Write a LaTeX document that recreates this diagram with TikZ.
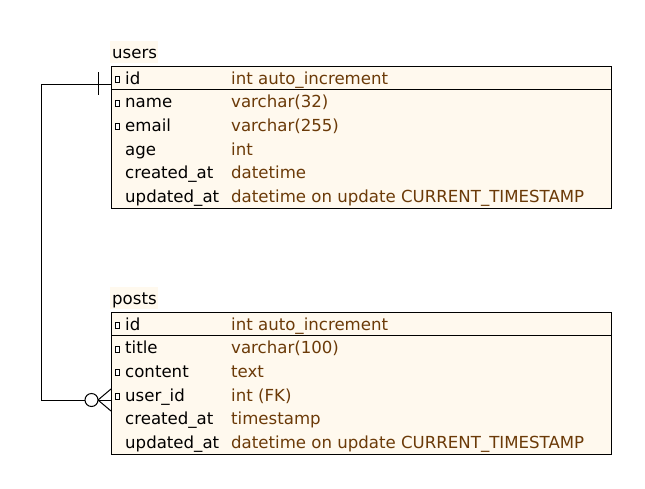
\documentclass[tikz,border=0pt]{standalone}
\usepackage{fontspec}
\setmainfont{DejaVu Sans}
\definecolor{tablefill}{HTML}{FFF9EE}
\definecolor{typebrown}{HTML}{6B3A08}
\tikzset{
  tablebox/.style={draw=black, line width=1pt, fill=tablefill, inner sep=0pt, anchor=north west},
  titlebox/.style={fill=tablefill, inner sep=0pt, anchor=north west},
  txt/.style={font=\fontsize{16.6}{18}\selectfont, inner sep=0pt, anchor=base west},
  colname/.style={txt, text=black},
  coltype/.style={txt, text=typebrown},
  keyicon/.style={draw=black, line width=0.7pt, fill=white, inner sep=0pt, minimum width=4pt, minimum height=6pt, anchor=south west},
  link/.style={draw=black, line width=1pt},
}
\begin{document}
\begin{tikzpicture}[x=1pt, y=-1pt]
\useasboundingbox (0,0) rectangle (645,488);

% ---- users table ----
\node[titlebox, minimum width=48pt, minimum height=22pt] (usersTitleBg) at (110,41) {};
\node[colname] (usersTitle) at (112,58) {users};
\node[tablebox, minimum width=500pt, minimum height=142pt] (users) at (111,66) {};
\draw[line width=1pt] (111,89.3) -- (611,89.3);
\foreach \n/\name/\type/\key [count=\i from 0] in {
  id/id/int auto\_increment/1,
  name/name/varchar(32)/1,
  email/email/varchar(255)/1,
  age/age/int/0,
  created/created\_at/datetime/0,
  updated/updated\_at/datetime on update CURRENT\_TIMESTAMP/0}{
  \pgfmathsetmacro{\yb}{66+18.3+23.67*\i}
  \node[colname] (users-\n) at (125,\yb) {\name};
  \node[coltype] (users-\n-type) at (231,\yb) {\type};
  \ifnum\key=1 \node[keyicon] (users-\n-key) at (115,\yb-1.5) {};\fi
}

% ---- posts table ----
\node[titlebox, minimum width=48pt, minimum height=22pt] (postsTitleBg) at (110,287) {};
\node[colname] (postsTitle) at (112,304) {posts};
\node[tablebox, minimum width=500pt, minimum height=142pt] (posts) at (111,312) {};
\draw[line width=1pt] (111,335.6) -- (611,335.6);
\foreach \n/\name/\type/\key [count=\i from 0] in {
  id/id/int auto\_increment/1,
  title/title/varchar(100)/1,
  content/content/text/1,
  userid/user\_id/int (FK)/1,
  created/created\_at/timestamp/0,
  updated/updated\_at/datetime on update CURRENT\_TIMESTAMP/0}{
  \pgfmathsetmacro{\yb}{312+18.3+23.67*\i}
  \node[colname] (posts-\n) at (125,\yb) {\name};
  \node[coltype] (posts-\n-type) at (231,\yb) {\type};
  \ifnum\key=1 \node[keyicon] (posts-\n-key) at (115,\yb-1.5) {};\fi
}

% ---- relationship users.id (one) -> posts.user_id (zero or many) ----
\coordinate (oneEnd) at (111,84);
\coordinate (manyEnd) at (111,400);
\coordinate (bend1) at (41.5,84);
\coordinate (bend2) at (41.5,400);
\node[draw=black, line width=1pt, fill=white, circle, minimum size=13pt, inner sep=0pt] (optCircle) at (91.5,400) {};
\coordinate (footTip) at (98,400);
\draw[link] (oneEnd) -- (bend1) -- (bend2) -- (optCircle.west);
% "one" tick
\draw[link] (98,72) -- (98,95);
% crow's foot
\draw[link] (footTip) -- (111,389);
\draw[link] (footTip) -- (manyEnd);
\draw[link] (footTip) -- (111,411);
\end{tikzpicture}
\end{document}
